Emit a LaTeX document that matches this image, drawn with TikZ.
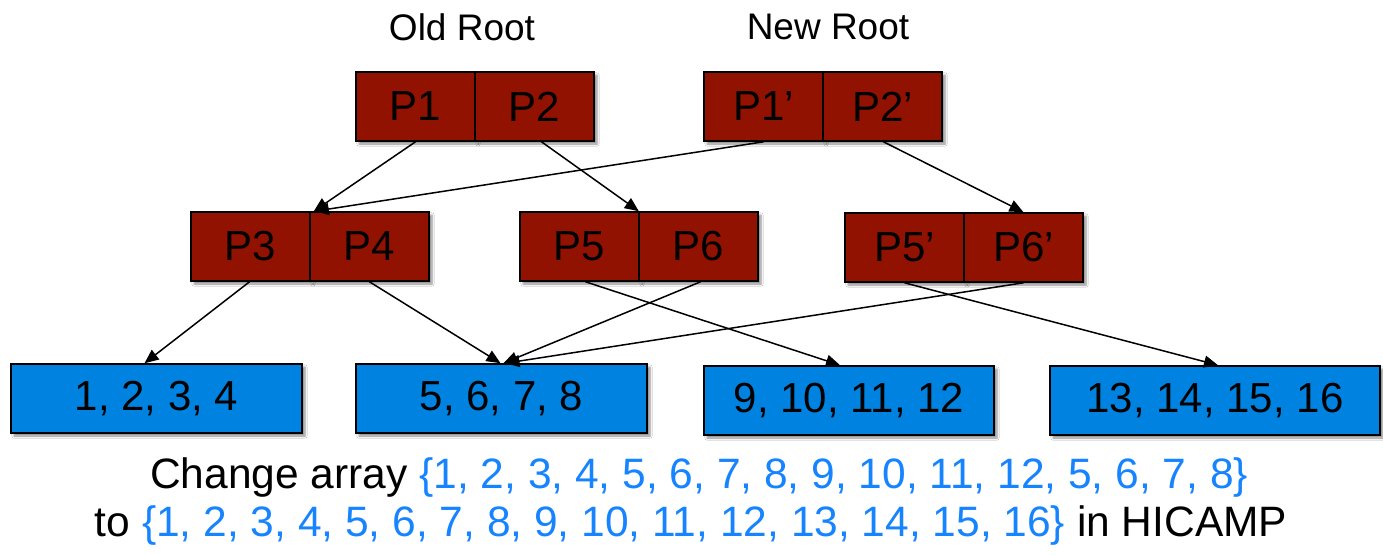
\documentclass[tikz,border=0pt]{standalone}
\usepackage{fontspec}
\setmainfont{Liberation Sans}
\usetikzlibrary{arrows.meta,shadows.blur}

\definecolor{pageRed}{RGB}{145,18,0}
\definecolor{leafBlue}{RGB}{0,130,224}
\definecolor{textBlue}{RGB}{22,132,255}

\tikzset{
  box/.style={draw=black, line width=1.6pt, inner sep=0pt, minimum height=69pt,
    font=\fontsize{42}{48}\selectfont,
    blur shadow={shadow xshift=3pt, shadow yshift=-3pt, shadow blur steps=6, shadow opacity=45}},
  pagebox/.style={box, fill=pageRed, minimum width=119pt},
  leafbox/.style={box, fill=leafBlue},
  ptr/.style={draw=black, line width=1.5pt, -{Triangle[length=14pt,width=12pt]}},
  title/.style={font=\fontsize{37}{44}\selectfont},
  caption/.style={font=\fontsize{42.5}{48}\selectfont, inner sep=0pt}
}

\begin{document}
\begin{tikzpicture}[x=1pt, y=-1pt]
  \fill[white] (0,0) rectangle (1383,554);
  \path[use as bounding box] (0,0) rectangle (1383,554);

  % titles
  \node[title] (oldT) at (462,27) {Old Root};
  \node[title] (newT) at (828,27) {New Root};

  % root pages
  \node[pagebox] (P1)  at (415.5,106.5) {P1};
  \node[pagebox] (P2)  at (534.5,106.5) {P2};
  \node[pagebox] (P1n) at (763.5,106.5) {P1’};
  \node[pagebox] (P2n) at (882.5,106.5) {P2’};

  % middle pages
  \node[pagebox] (P3)  at (250.5,246.5) {P3};
  \node[pagebox] (P4)  at (369.5,246.5) {P4};
  \node[pagebox] (P5)  at (579.5,246.5) {P5};
  \node[pagebox] (P6)  at (698.5,246.5) {P6};
  \node[pagebox] (P5n) at (904.5,247.5) {P5’};
  \node[pagebox] (P6n) at (1023.5,247.5) {P6’};

  % leaves
  \node[leafbox, minimum width=291pt] (L1) at (156.5,398.5) {1, 2, 3, 4};
  \node[leafbox, minimum width=291pt] (L2) at (501.5,398.5) {5, 6, 7, 8};
  \node[leafbox, minimum width=290pt] (L3) at (849,400.5) {9, 10, 11, 12};
  \node[leafbox, minimum width=330pt] (L4) at (1215,400.5) {13, 14, 15, 16};

  % pointers from the roots
  \draw[ptr] (P1.south) -- ([xshift=3pt]P3.north east);
  \draw[ptr] ([xshift=7pt]P2.south) -- ([xshift=-1pt]P5.north east);
  \draw[ptr] (P1n.south) -- ([xshift=4pt]P3.north east);
  \draw[ptr] ([xshift=1pt]P2n.south) -- (P6n.north);

  % pointers to the leaves
  \draw[ptr] ([xshift=-1pt]P3.south) -- ([xshift=-12pt]L1.north);
  \draw[ptr] (P4.south) -- ([xshift=-1pt]L2.north);
  \draw[ptr] ([xshift=6pt]P5.south) -- ([xshift=-9pt]L3.north);
  \draw[ptr] ([xshift=2pt]P6.south) -- ([xshift=2pt]L2.north);
  \draw[ptr] (P5n.south) -- ([xshift=3pt]L4.north);
  \draw[ptr] (P6n.south) -- ([xshift=4pt]L2.north);

  % caption
  \node[caption] (cap1) at (699,478)
    {Change array {\color{textBlue}\{1, 2, 3, 4, 5, 6, 7, 8, 9, 10, 11, 12, 5, 6, 7, 8\}}};
  \node[caption] (cap2) at (691,526)
    {to {\color{textBlue}\{1, 2, 3, 4, 5, 6, 7, 8, 9, 10, 11, 12, 13, 14, 15, 16\}} in HICAMP};
\end{tikzpicture}
\end{document}
